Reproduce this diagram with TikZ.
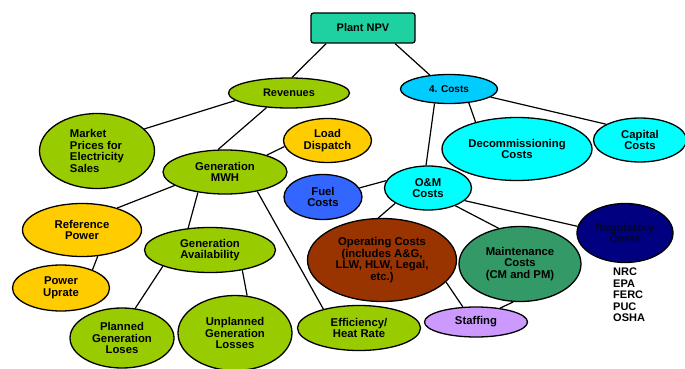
\documentclass[tikz,border=0pt]{standalone}
\usepackage{fontspec}
\setmainfont{Liberation Sans}
\usetikzlibrary{shapes.geometric}
\definecolor{cnpv}{RGB}{29,209,161}
\definecolor{clime}{RGB}{153,204,0}
\definecolor{cgold}{RGB}{255,204,0}
\definecolor{csky}{RGB}{0,204,255}
\definecolor{caqua}{RGB}{0,255,255}
\definecolor{cfuel}{RGB}{51,102,255}
\definecolor{cbrown}{RGB}{153,51,0}
\definecolor{csea}{RGB}{51,153,102}
\definecolor{cnavy}{RGB}{0,0,128}
\definecolor{clilac}{RGB}{204,153,255}
\definecolor{cregtext}{RGB}{5,5,45}
\begin{document}
\begin{tikzpicture}[x=1pt,y=-1pt,
  bub/.style={ellipse,draw=black,line width=1.3pt,inner sep=0pt,align=center,
    font=\fontsize{11.3}{11.6}\selectfont\bfseries},
  box/.style={rectangle,rounded corners=2.5pt,draw=black,line width=1.3pt,inner sep=0pt,
    font=\fontsize{11}{12}\selectfont\bfseries},
  link/.style={line width=1.2pt},
  listtext/.style={inner sep=0pt,align=left,font=\fontsize{11}{11.6}\selectfont\bfseries}]
\useasboundingbox (0,0) rectangle (685,369);

% top level
\node[box,fill=cnpv,minimum width=104pt,minimum height=30pt] (npv) at (363,28) {Plant NPV};
\node[bub,fill=clime,minimum width=121pt,minimum height=30pt,font=\fontsize{11}{12}\selectfont\bfseries] (rev) at (289,93) {Revenues};
\node[bub,fill=csky,minimum width=97pt,minimum height=29pt,font=\fontsize{10}{12}\selectfont\bfseries] (costs) at (449,89) {4. Costs};

% revenue side
\node[bub,fill=clime,minimum width=115pt,minimum height=75pt,align=left] (market) at (97,151) {Market\\Prices for\\Electricity\\Sales};
\node[bub,fill=clime,minimum width=124pt,minimum height=44pt] (gmwh) at (225,172) {Generation\\MWH};
\node[bub,fill=cgold,minimum width=88pt,minimum height=44pt] (load) at (327.5,140.5) {Load\\Dispatch};
\node[bub,fill=cgold,minimum width=119pt,minimum height=53pt] (ref) at (82,230) {Reference\\Power};
\node[bub,fill=clime,minimum width=131pt,minimum height=45pt] (gavail) at (210,250) {Generation\\Availability};
\node[bub,fill=cgold,minimum width=97pt,minimum height=46pt] (uprate) at (61,288) {Power\\Uprate};
\node[bub,fill=clime,minimum width=104pt,minimum height=60pt] (planned) at (122,338) {Planned\\Generation\\Loses};
\node[bub,fill=clime,minimum width=114pt,minimum height=75pt] (unplanned) at (235,333) {Unplanned\\Generation\\Losses};
\node[bub,fill=clime,minimum width=123pt,minimum height=45pt] (eff) at (359,328) {Efficiency/\\Heat Rate};

% cost side
\node[bub,fill=caqua,minimum width=150pt,minimum height=63pt] (decom) at (517,149) {Decommissioning\\Costs};
\node[bub,fill=caqua,minimum width=93pt,minimum height=44pt] (capital) at (640,140) {Capital\\Costs};
\node[bub,fill=caqua,minimum width=87pt,minimum height=44pt] (om) at (428,188) {O\&M\\Costs};
\node[bub,fill=cfuel,minimum width=78pt,minimum height=45pt] (fuel) at (323,197) {Fuel\\Costs};
\node[bub,fill=cbrown,minimum width=149pt,minimum height=83pt] (oper) at (382,260) {Operating Costs\\(includes A\&G,\\LLW, HLW, Legal,\\etc.)};
\node[bub,fill=csea,minimum width=122pt,minimum height=75pt] (maint) at (520,264) {Maintenance\\Costs\\(CM and PM)};
\node[bub,fill=cnavy,text=cregtext,minimum width=96pt,minimum height=59pt] (reg) at (625,233) {Regulatory\\Costs};
\node[bub,fill=clilac,minimum width=103pt,minimum height=30pt] (staff) at (476,322) {Staffing};
\node[listtext,anchor=west] (agencies) at (613,295) {NRC\\EPA\\FERC\\PUC\\OSHA};

% connectors
\begin{scope}[link]
\draw (npv.-157) -- (rev.79);
\draw (npv.-26.6) -- (costs.144.5);
\draw (rev.-172.9) -- (market.25.6);
\draw (rev.-147.5) -- (gmwh.107.6);
\draw (gmwh.22.2) -- (load.-172.1);
\draw (gmwh.-165.7) -- (ref.32.2);
\draw (gmwh.-143.7) -- (gavail.135);
\draw (gmwh.-31) -- (eff.152.9);
\draw (ref.-59.4) -- (uprate.30.7);
\draw (gavail.-161.2) -- (planned.66.6);
\draw (gavail.-32.5) -- (unplanned.72.5);
\draw (costs.-135) -- (om.95);
\draw (costs.-35) -- (decom.147.9);
\draw (costs.-11.6) -- (capital.155.4);
\draw (om.170.8) -- (fuel.14.4);
\draw (om.-155.4) -- (oper.95.4);
\draw (om.-33.2) -- (maint.121.9);
\draw (om.-19.7) -- (reg.172.7);
\draw (oper.-19.5) -- (staff.131);
\draw (maint.-100.4) -- (staff.30.6);
\end{scope}
\end{tikzpicture}
\end{document}
